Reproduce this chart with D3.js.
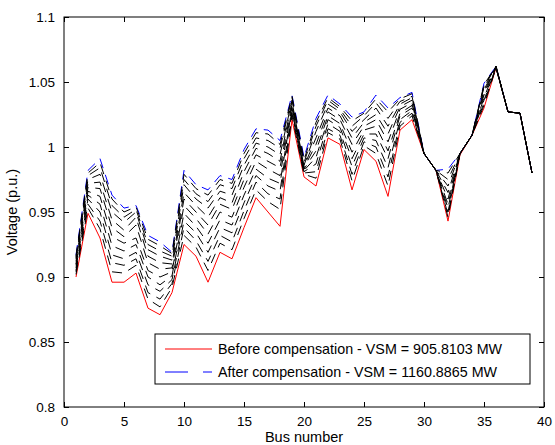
<!DOCTYPE html>
<html><head><meta charset="utf-8">
<script src="https://cdn.jsdelivr.net/npm/d3@7"></script>
<style>
html,body{margin:0;padding:0;background:#fff;}
text{font-family:"Liberation Sans",Arial,Helvetica,sans-serif;fill:#000;}
</style></head>
<body><svg id="chart" width="555" height="445"></svg>
<script>
const buses = d3.range(1, 40);
const xTicks = [0,5,10,15,20,25,30,35,40];
const yTicks = [0.8,0.85,0.9,0.95,1,1.05,1.1];
const yTickLabels = ["0.8","0.85","0.9","0.95","1","1.05","1.1"];
const legendLabels = ["Before compensation - VSM = 905.8103 MW","After compensation - VSM = 1160.8865 MW"];

const before = [0.900,0.949,0.930,0.896,0.896,0.903,0.876,0.871,0.888,0.925,0.916,0.896,0.919,0.914,0.938,0.961,0.950,0.939,1.021,0.977,0.970,1.007,1.002,0.967,0.998,0.989,0.962,1.013,1.021,0.995,0.982,0.943,0.994,1.009,1.030,1.061,1.027,1.026,0.980];
const afterFinal = [0.917,0.982,0.991,0.963,0.953,0.955,0.932,0.927,0.919,0.982,0.971,0.967,0.978,0.975,0.998,1.014,1.013,1.005,1.040,0.992,1.022,1.040,1.033,1.023,1.027,1.040,1.030,1.038,1.042,0.995,0.982,0.983,0.995,1.009,1.049,1.062,1.027,1.026,0.980];
const iter01 = [0.902,0.953,0.937,0.904,0.903,0.909,0.883,0.877,0.892,0.932,0.923,0.905,0.926,0.921,0.945,0.967,0.958,0.952,1.024,0.979,0.976,1.011,1.006,0.974,1.001,0.995,0.970,1.016,1.024,0.995,0.982,0.946,0.995,1.009,1.032,1.061,1.027,1.026,0.980];
const iter02 = [0.904,0.956,0.943,0.911,0.909,0.914,0.888,0.883,0.895,0.938,0.928,0.912,0.932,0.927,0.951,0.973,0.964,0.960,1.026,0.980,0.981,1.014,1.009,0.979,1.004,1.000,0.977,1.019,1.026,0.995,0.982,0.948,0.995,1.009,1.034,1.061,1.027,1.026,0.980];
const iter03 = [0.905,0.960,0.950,0.917,0.914,0.919,0.894,0.889,0.898,0.943,0.934,0.919,0.938,0.934,0.957,0.978,0.970,0.966,1.028,0.981,0.987,1.018,1.012,0.985,1.007,1.005,0.984,1.021,1.028,0.995,0.982,0.950,0.995,1.009,1.036,1.061,1.027,1.026,0.980];
const iter04 = [0.907,0.963,0.956,0.924,0.920,0.925,0.900,0.894,0.901,0.949,0.939,0.926,0.944,0.940,0.963,0.983,0.976,0.972,1.030,0.982,0.992,1.021,1.015,0.991,1.010,1.010,0.991,1.024,1.030,0.995,0.982,0.953,0.995,1.009,1.038,1.061,1.027,1.026,0.980];
const iter05 = [0.909,0.966,0.962,0.931,0.926,0.930,0.905,0.900,0.904,0.955,0.945,0.933,0.950,0.946,0.969,0.989,0.983,0.978,1.031,0.983,0.997,1.024,1.018,0.996,1.013,1.016,0.997,1.026,1.032,0.995,0.982,0.956,0.995,1.009,1.040,1.062,1.027,1.026,0.980];
const iter06 = [0.910,0.969,0.968,0.938,0.931,0.940,0.911,0.906,0.907,0.960,0.950,0.940,0.956,0.952,0.975,0.994,0.989,0.984,1.033,0.984,1.002,1.027,1.021,1.002,1.016,1.021,1.004,1.029,1.034,0.995,0.982,0.960,0.995,1.009,1.042,1.062,1.027,1.026,0.980];
const iter07 = [0.912,0.972,0.973,0.944,0.936,0.946,0.916,0.911,0.910,0.965,0.955,0.946,0.961,0.957,0.981,0.999,0.995,0.989,1.035,0.985,1.007,1.030,1.024,1.007,1.019,1.025,1.010,1.031,1.036,0.995,0.982,0.965,0.995,1.009,1.044,1.062,1.027,1.026,0.980];
const iter08 = [0.914,0.975,0.979,0.950,0.942,0.950,0.921,0.916,0.913,0.971,0.960,0.953,0.966,0.963,0.986,1.003,1.000,0.994,1.036,0.986,1.012,1.033,1.027,1.012,1.021,1.030,1.016,1.033,1.038,0.995,0.982,0.970,0.995,1.009,1.046,1.062,1.027,1.026,0.980];
const iter09 = [0.915,0.978,0.984,0.955,0.946,0.952,0.925,0.920,0.916,0.975,0.964,0.958,0.971,0.968,0.991,1.007,1.005,0.999,1.038,0.988,1.016,1.036,1.029,1.016,1.024,1.034,1.022,1.035,1.039,0.995,0.982,0.975,0.995,1.009,1.047,1.062,1.027,1.026,0.980];
const iter10 = [0.916,0.980,0.988,0.960,0.950,0.954,0.929,0.924,0.918,0.979,0.968,0.963,0.975,0.972,0.995,1.011,1.010,1.002,1.039,0.990,1.019,1.038,1.031,1.020,1.026,1.037,1.027,1.037,1.041,0.995,0.982,0.980,0.995,1.009,1.048,1.062,1.027,1.026,0.980];
const iterations = [iter01,iter02,iter03,iter04,iter05,iter06,iter07,iter08,iter09,iter10];

const svg = d3.select("#chart");
const L = 64, R = 544, T = 17, B = 407;
const x = d3.scaleLinear().domain([0,40]).range([L,R]);
const y = d3.scaleLinear().domain([0.8,1.1]).range([B,T]);
const line = d3.line().x((d,i)=>x(buses[i])).y(d=>y(d));

const g = svg.append("g");
g.append("path").datum(before).attr("d",line).attr("fill","none").attr("stroke","#ff0000").attr("stroke-width",1);
g.append("path").datum(afterFinal).attr("d",line).attr("fill","none").attr("stroke","#0000ff").attr("stroke-width",1).attr("stroke-dasharray","10,7");
iterations.forEach((s,k)=>{
  g.append("path").datum(s).attr("d",line).attr("fill","none").attr("stroke","#000").attr("stroke-width",1)
   .attr("stroke-dasharray","10,7");
});

const fs = "13.5px";
const ax = svg.append("g").attr("transform",`translate(0,${B})`)
  .call(d3.axisBottom(x).tickValues(xTicks).tickSizeInner(-5).tickSizeOuter(0).tickPadding(9).tickFormat(d3.format("d")));
const ay = svg.append("g").attr("transform",`translate(${L},0)`)
  .call(d3.axisLeft(y).tickValues(yTicks).tickSizeInner(-5).tickSizeOuter(0).tickPadding(9).tickFormat((d,i)=>yTickLabels[i]));
const axT = svg.append("g").attr("transform",`translate(0,${T})`)
  .call(d3.axisTop(x).tickValues(xTicks).tickSizeInner(-5).tickSizeOuter(0).tickFormat(""));
const ayR = svg.append("g").attr("transform",`translate(${R},0)`)
  .call(d3.axisRight(y).tickValues(yTicks).tickSizeInner(-5).tickSizeOuter(0).tickFormat(""));
[ax,ay,axT,ayR].forEach(a=>{
  a.select(".domain").remove();
  a.selectAll("line").attr("stroke","#000");
  a.selectAll("text").style("font-size",fs).attr("fill","#000");
});
svg.append("rect").attr("x",L).attr("y",T).attr("width",R-L).attr("height",B-T)
  .attr("fill","none").attr("stroke","#000").attr("stroke-width",1);

svg.append("text").attr("x",(L+R)/2).attr("y",442).attr("text-anchor","middle").style("font-size","14.5px").text("Bus number");
svg.append("text").attr("transform",`translate(17,${(T+B)/2}) rotate(-90)`).attr("text-anchor","middle").style("font-size","14.5px").text("Voltage (p.u.)");

const lg = svg.append("g");
lg.append("rect").attr("x",155).attr("y",334).attr("width",375).attr("height",50).attr("fill","#fff").attr("stroke","#000").attr("stroke-width",1);
lg.append("line").attr("x1",165).attr("x2",212).attr("y1",349).attr("y2",349).attr("stroke","#ff0000").attr("stroke-width",1);
lg.append("line").attr("x1",165).attr("x2",212).attr("y1",372).attr("y2",372).attr("stroke","#0000ff").attr("stroke-width",1).attr("stroke-dasharray","23,15");
lg.append("text").attr("x",218).attr("y",354).style("font-size","14.3px").text(legendLabels[0]);
lg.append("text").attr("x",218).attr("y",377).style("font-size","14.3px").text(legendLabels[1]);
</script></body></html>
